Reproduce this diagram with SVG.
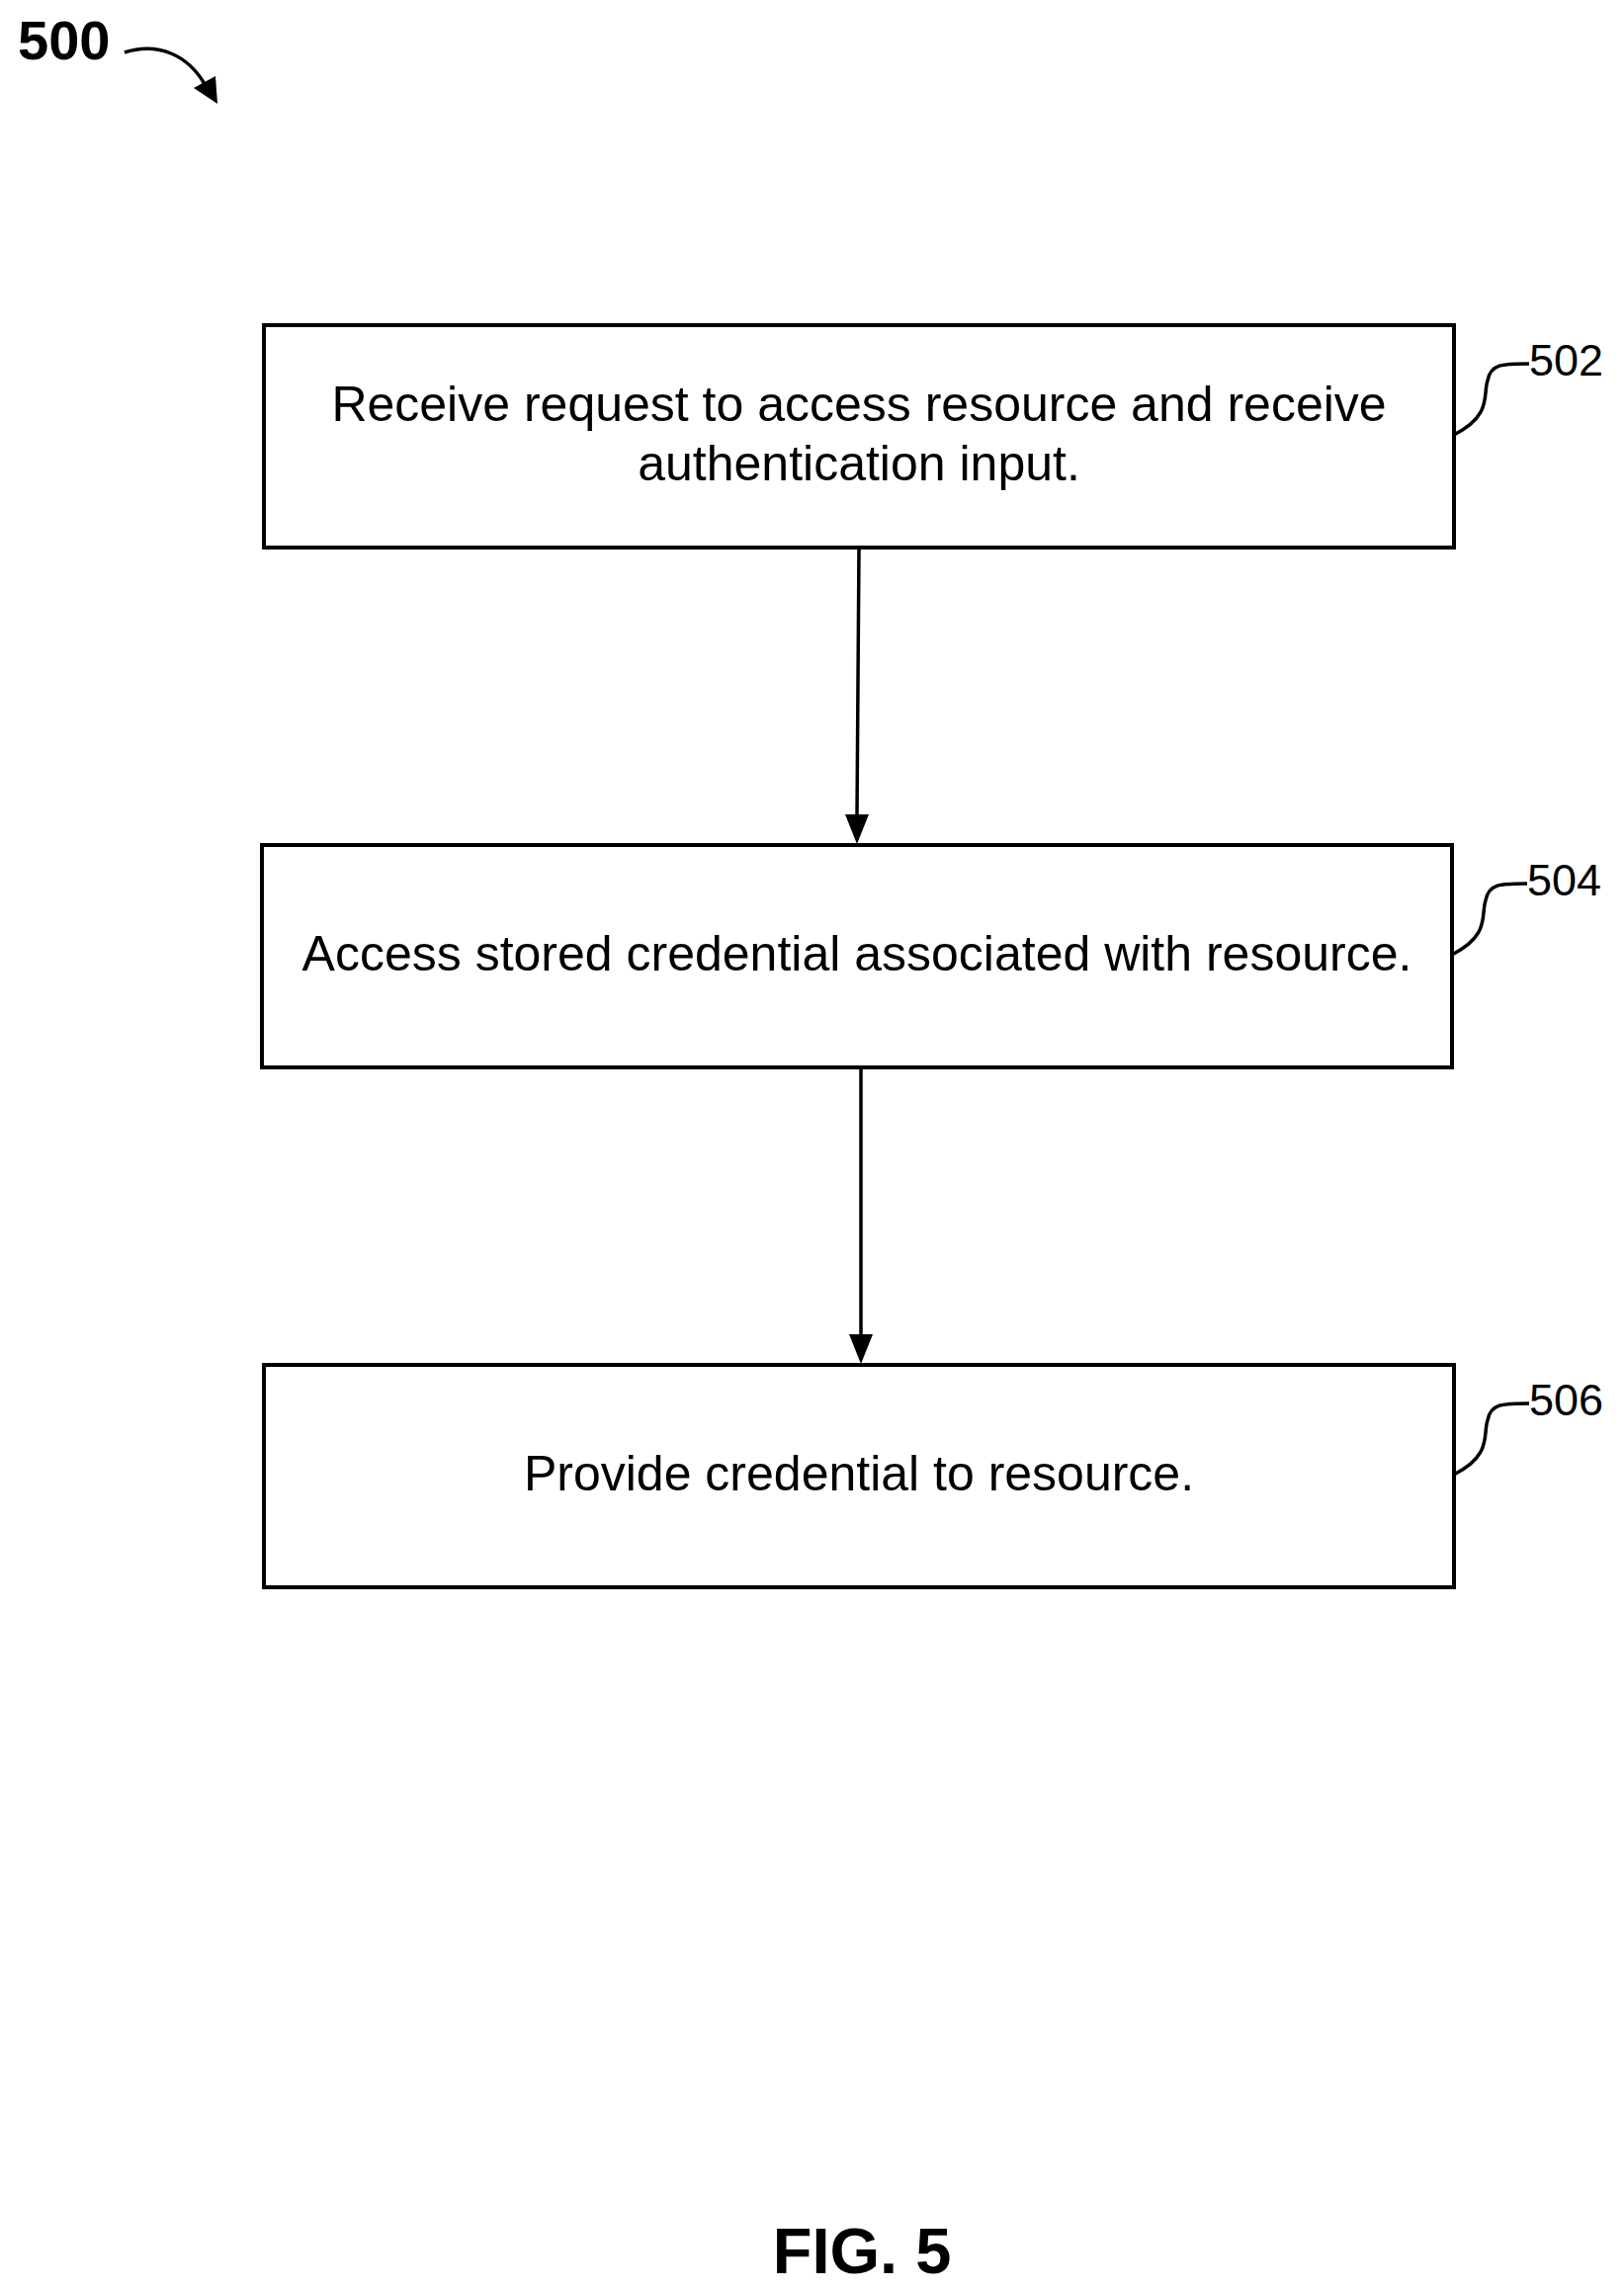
<svg xmlns="http://www.w3.org/2000/svg" width="1643" height="2317" viewBox="0 0 1643 2317">
<style>
.box{fill:#fff;stroke:#000;stroke-width:4}
.t{font-family:"Liberation Sans",Arial,sans-serif;font-size:50px;fill:#000;text-anchor:middle}
.r{font-family:"Liberation Sans",Arial,sans-serif;font-size:45px;fill:#000}
.c{fill:none;stroke:#000;stroke-width:3.5}
</style>
<rect width="1643" height="2317" fill="#fff"/>
<text x="18" y="60" font-family="Liberation Sans,Arial,sans-serif" font-weight="bold" font-size="56">500</text>
<path class="c" d="M126,53 C160,42 190,56 207,85"/>
<path d="M196,89 L218,77 L220,105z"/>
<g id="n502"><rect class="box" x="267" y="329" width="1204" height="225"/>
<text class="t" x="869" y="426">Receive request to access resource and receive</text>
<text class="t" x="869" y="486">authentication input.</text>
<path class="c" d="M1471,440 C1510,420 1500,400 1505,385 C1508,368 1520,368 1547,368"/>
<text class="r" x="1547" y="380">502</text></g>
<g id="n504"><rect class="box" x="265" y="855" width="1204" height="225"/>
<text class="t" x="867" y="982">Access stored credential associated with resource.</text>
<path class="c" d="M1469,966 C1508,946 1498,926 1503,911 C1506,894 1518,894 1545,894"/>
<text class="r" x="1545" y="906">504</text></g>
<g id="n506"><rect class="box" x="267" y="1381" width="1204" height="225"/>
<text class="t" x="869" y="1508">Provide credential to resource.</text>
<path class="c" d="M1471,1492 C1510,1472 1500,1452 1505,1437 C1508,1420 1520,1420 1547,1420"/>
<text class="r" x="1547" y="1432">506</text></g>
<g id="connectors">
<path class="c" d="M869,555 L867,826"/><path d="M855,824 L879,824 L867,854z"/>
<path class="c" d="M871,1080 L871,1352"/><path d="M859,1350 L883,1350 L871,1380z"/>
</g>
<text x="872" y="2300" text-anchor="middle" font-family="Liberation Sans,Arial,sans-serif" font-weight="bold" font-size="65">FIG. 5</text>
</svg>
